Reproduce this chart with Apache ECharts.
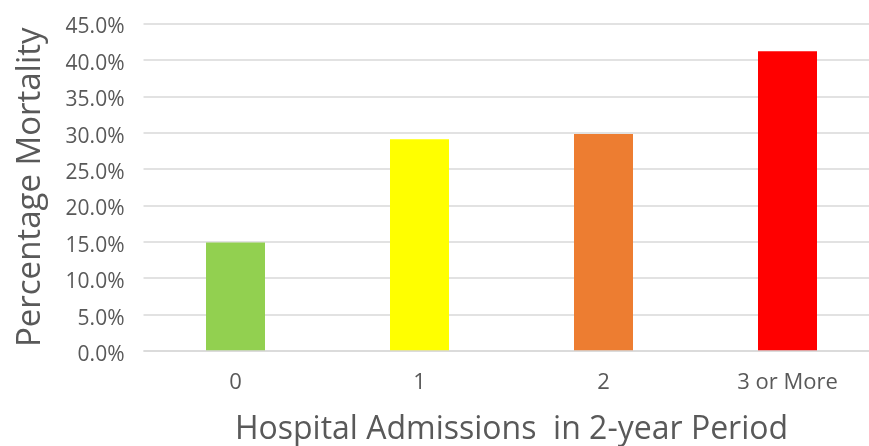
<!DOCTYPE html>
<html>
<head>
<meta charset="utf-8">
<script src="https://cdn.jsdelivr.net/npm/echarts@6/dist/echarts.min.js"></script>
<style>
  html, body { margin: 0; padding: 0; background: #ffffff; }
  #chart { width: 869px; height: 446px; }
</style>
</head>
<body>
<div id="chart"></div>
<script>
// Mortality by number of hospital admissions
const categories = ['0', '1', '2', '3 or More'];
const mortality = [14.9, 29.1, 29.8, 41.2];
const barColors = ['#92D050', '#FFFF00', '#ED7D31', '#FF0000'];
const yTicks = { min: 0, max: 45, step: 5 };

const chart = echarts.init(document.getElementById('chart'));
const font = '"Open Sans", "DejaVu Sans", sans-serif';
const gridColor = '#d9d9d9';

chart.setOption({
  animation: false,
  backgroundColor: '#ffffff',
  grid: {
    left: 143.5, right: -10.5, top: 23.5, bottom: 95,
    containLabel: false,
    outerBoundsMode: 'none'
  },
  xAxis: {
    type: 'category',
    data: categories,
    name: 'Hospital Admissions  in 2-year Period',
    nameLocation: 'middle',
    nameGap: 63,
    nameTextStyle: { fontFamily: font, fontSize: 32, color: '#595959' },
    axisLine: { show: false },
    axisTick: { show: false },
    axisLabel: { fontFamily: font, fontSize: 22, color: '#595959', margin: 21 }
  },
  yAxis: {
    type: 'value',
    min: yTicks.min,
    max: yTicks.max,
    interval: yTicks.step,
    name: 'Percentage Mortality',
    nameLocation: 'middle',
    nameGap: 96,
    nameTextStyle: { fontFamily: font, fontSize: 33, color: '#595959' },
    axisLine: { show: false },
    axisTick: { show: false },
    splitLine: { lineStyle: { color: gridColor, width: 1.5 } },
    axisLabel: {
      fontFamily: font, fontSize: 21, color: '#595959', margin: 19,
      verticalAlign: 'top',
      lineHeight: 8,
      formatter: v => v.toFixed(1) + '%'
    }
  },
  series: [{
    type: 'bar',
    barWidth: 59,
    data: mortality.map((v, i) => ({ value: v, itemStyle: { color: barColors[i] } })),
    markLine: {
      silent: true,
      symbol: 'none',
      label: { show: false },
      lineStyle: { color: gridColor, width: 1.5, type: 'solid' },
      data: [{ yAxis: 0 }]
    }
  }]
});
</script>
</body>
</html>
